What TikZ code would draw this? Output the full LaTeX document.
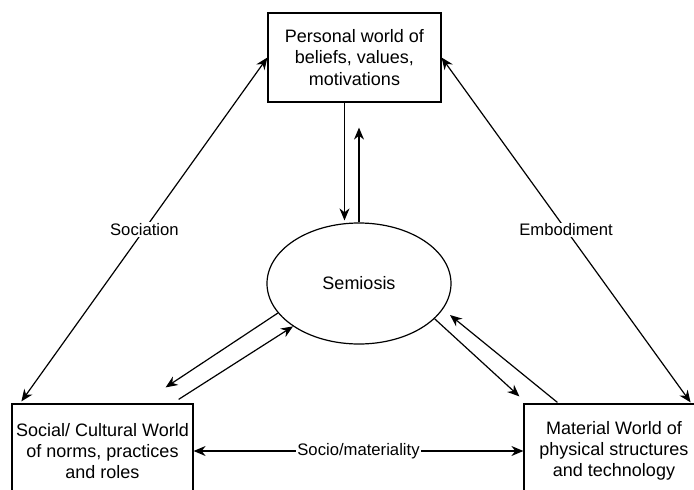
\documentclass[tikz,border=0pt]{standalone}
\usepackage{fontspec}
\setmainfont{Liberation Sans}
\usepackage{tikz}
\usetikzlibrary{arrows.meta,calc,shapes.geometric}

\begin{document}
\begin{tikzpicture}[x=0.75pt,y=-0.75pt,
        world/.style={draw,line width=0.9pt,align=center,inner sep=0pt,
            font=\fontsize{13.5}{16}\selectfont},
        link/.style={line width=0.9pt,-{Stealth[length=9pt,width=7.5pt]}},
        twoway/.style={line width=0.9pt,
            {Stealth[length=9pt,width=7.5pt]}-{Stealth[length=9pt,width=7.5pt]}},
        lbl/.style={fill=white,inner sep=1pt,font=\fontsize{12.5}{14}\selectfont}]
        \useasboundingbox (0,0) rectangle (694,490);

        % Draw the three worlds
        \node[world,minimum width=129.75pt,minimum height=66.75pt] (personal) at (354.5,57.5)
            {Personal world of\\beliefs, values,\\motivations};
        \node[world,minimum width=135.75pt,minimum height=70.5pt] (social) at (102.5,451)
            {Social/ Cultural World\\of norms, practices\\and roles};
        \node[world,minimum width=135pt,minimum height=70.5pt] (material) at (614,451)
            {Material World of\\physical structures\\and technology};

        % Draw the centre
        \node[draw,ellipse,line width=0.9pt,inner sep=0pt,minimum width=138pt,minimum height=90.75pt,
            font=\fontsize{13.5}{16}\selectfont] (semiosis) at (359,283.5) {Semiosis};

        % Outer links
        \draw[twoway] ($(social.north west)+(10,-2)$) -- (personal.west)
            node[lbl,midway] {Sociation};
        \draw[twoway] (personal.east) -- ($(material.north east)+(-14,-1)$)
            node[lbl,midway] {Embodiment};
        \draw[twoway] (social.east) -- (material.west)
            node[lbl,midway] {Socio/materiality};

        % Links to and from semiosis
        \coordinate (dn) at ($(personal.south)+(-10,0)$);
        \draw[link] (dn) -- ($(dn |- semiosis.north)+(0,-2)$);
        \draw[link] (semiosis.north) -- ($(semiosis.north |- personal.south)+(0,25)$);
        \draw[link] (semiosis.200) -- ($(social.north east)+(-28,-16)$);
        \draw[link] ($(social.north east)+(-15,-4)$) -- (semiosis.213);
        \draw[link] (semiosis.335) -- ($(material.north west)+(-4,-7)$);
        \draw[link] ($(material.north west)+(34,-1)$) -- ($(semiosis.center)+(91,31.5)$);
    \end{tikzpicture}
\end{document}
